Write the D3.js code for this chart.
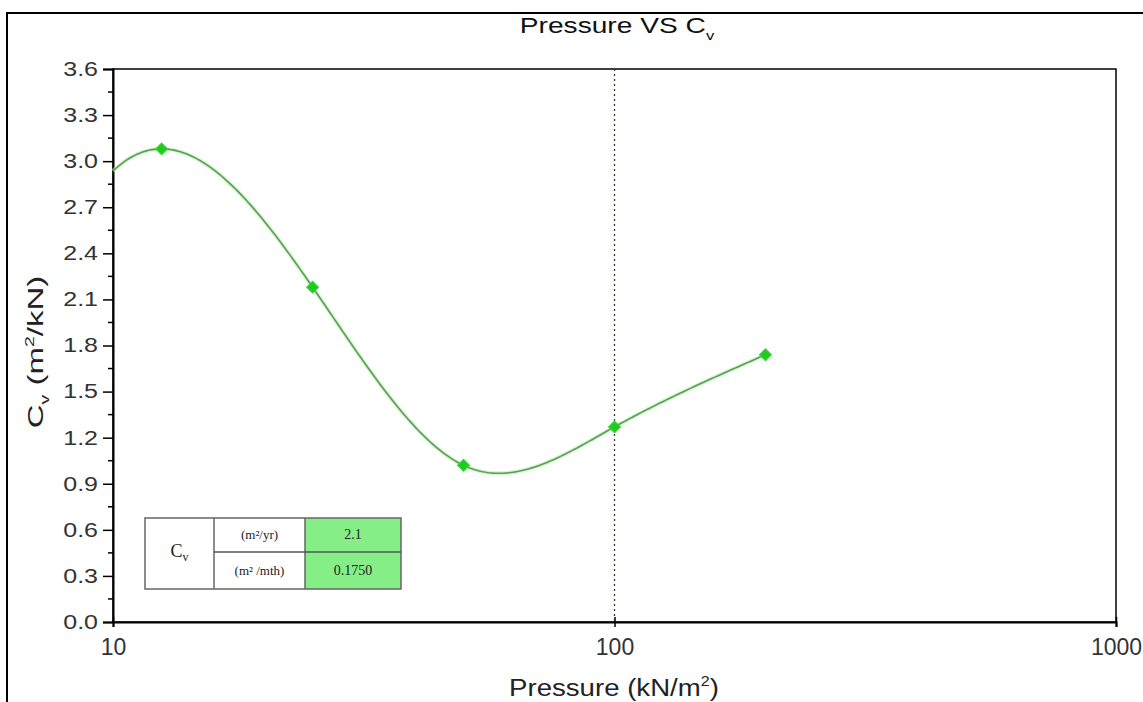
<!DOCTYPE html>
<html>
<head>
<meta charset="utf-8">
<script src="https://cdn.jsdelivr.net/npm/d3@7"></script>
<style>
  body { margin: 0; background: #fff; }
  svg { display: block; font-family: "Liberation Sans", Arial, sans-serif; }
</style>
</head>
<body>
<svg id="chart" width="1143" height="702"></svg>
<script>
// data
const pressure = [12.5, 25, 50, 100, 200];
const cv = [3.08, 2.18, 1.02, 1.27, 1.74];
const xTicks = [10, 100, 1000];
const yTicks = [0, 0.3, 0.6, 0.9, 1.2, 1.5, 1.8, 2.1, 2.4, 2.7, 3.0, 3.3, 3.6];
const refPressure = 100;
const tableUnits = ['(m²/yr)', '(m² /mth)'];
const tableValues = ['2.1', '0.1750'];

const svg = d3.select('#chart');
const width = 1143;
const height = 702;
const margin = { top: 69, right: 27, bottom: 80, left: 113 };

const x = d3.scaleLog().domain([10, 1000]).range([margin.left, width - margin.right]);
const y = d3.scaleLinear().domain([0, 3.6]).range([height - margin.bottom, margin.top]);

// outer page frame (top and left edges only)
svg.append('path')
  .attr('d', `M7,${height} V13 H${width}`)
  .attr('fill', 'none')
  .attr('stroke', '#000')
  .attr('stroke-width', 2);

// title
const title = svg.append('text')
  .attr('transform', 'translate(617,33) scale(1.28,1)')
  .attr('text-anchor', 'middle')
  .attr('font-size', 22)
  .attr('fill', '#111');
title.append('tspan').text('Pressure VS C');
title.append('tspan').attr('font-size', 13).attr('dy', 7).text('v');

// plot box
svg.append('rect')
  .attr('x', x.range()[0])
  .attr('y', y.range()[1])
  .attr('width', x.range()[1] - x.range()[0])
  .attr('height', y.range()[0] - y.range()[1])
  .attr('fill', 'none')
  .attr('stroke', '#000')
  .attr('stroke-width', 1.5);

// y axis
const yAxis = svg.append('g')
  .attr('transform', `translate(${margin.left},0)`)
  .call(d3.axisLeft(y).tickValues(yTicks).tickFormat(d3.format('.1f')).tickSize(10).tickPadding(4));
yAxis.select('.domain').attr('stroke-width', 2);
yAxis.selectAll('.tick line').attr('stroke-width', 1.5);
yAxis.selectAll('.tick text').attr('font-size', 20).attr('fill', '#333')
  .attr('transform', 'scale(1.25,1)').attr('x', -12);

// y minor ticks
const yMinor = d3.range(0, yTicks.length - 1).map(i => (yTicks[i] + yTicks[i + 1]) / 2);
svg.append('g')
  .selectAll('line')
  .data(yMinor)
  .join('line')
  .attr('x1', margin.left - 5)
  .attr('x2', margin.left)
  .attr('y1', d => y(d))
  .attr('y2', d => y(d))
  .attr('stroke', '#000')
  .attr('stroke-width', 1.5);

// x axis
const xAxis = svg.append('g')
  .attr('transform', `translate(0,${height - margin.bottom})`)
  .call(d3.axisBottom(x).tickValues(xTicks).tickFormat(d3.format('d')).tickSize(5).tickPadding(12));
xAxis.select('.domain').attr('stroke-width', 2);
xAxis.selectAll('.tick line').attr('y1', -5).attr('stroke-width', 1.5);
xAxis.selectAll('.tick text').attr('font-size', 23).attr('fill', '#333');

// axis labels
const yLabel = svg.append('text')
  .attr('transform', 'translate(43,352) rotate(-90) scale(1.5,1)')
  .attr('text-anchor', 'middle')
  .attr('font-size', 22)
  .attr('fill', '#222');
yLabel.append('tspan').text('C');
yLabel.append('tspan').attr('font-size', 13).attr('dy', 6).text('v');
yLabel.append('tspan').attr('dy', -6).text(' (m');
yLabel.append('tspan').attr('font-size', 13).attr('dy', -9).text('2');
yLabel.append('tspan').attr('dy', 9).text('/kN)');

const xLabel = svg.append('text')
  .attr('transform', 'translate(614,696) scale(1.15,1)')
  .attr('text-anchor', 'middle')
  .attr('font-size', 24)
  .attr('fill', '#222');
xLabel.append('tspan').text('Pressure (kN/m');
xLabel.append('tspan').attr('font-size', 14).attr('dy', -10).text('2');
xLabel.append('tspan').attr('dy', 10).text(')');

// dotted reference line
svg.append('line')
  .attr('x1', x(refPressure))
  .attr('x2', x(refPressure))
  .attr('y1', y.range()[1])
  .attr('y2', y.range()[0])
  .attr('stroke', '#3a3a20')
  .attr('stroke-width', 1.3)
  .attr('stroke-dasharray', '2,3');

// spline through the points in log10(x): zero slope at the first point, natural at the last
function makeSpline(us, ys) {
  const n = us.length;
  const h = d3.range(n - 1).map(i => us[i + 1] - us[i]);
  const dd = d3.range(n - 1).map(i => (ys[i + 1] - ys[i]) / h[i]);
  const a = new Array(n).fill(0), b = new Array(n).fill(0), c = new Array(n).fill(0), r = new Array(n).fill(0);
  b[0] = 2 * h[0]; c[0] = h[0]; r[0] = 6 * (dd[0] - 0);
  for (let i = 1; i < n - 1; i++) {
    a[i] = h[i - 1];
    b[i] = 2 * (h[i - 1] + h[i]);
    c[i] = h[i];
    r[i] = 6 * (dd[i] - dd[i - 1]);
  }
  b[n - 1] = 1; r[n - 1] = 0;
  for (let i = 1; i < n; i++) {
    const m = a[i] / b[i - 1];
    b[i] -= m * c[i - 1];
    r[i] -= m * r[i - 1];
  }
  const M = new Array(n).fill(0);
  M[n - 1] = r[n - 1] / b[n - 1];
  for (let i = n - 2; i >= 0; i--) M[i] = (r[i] - c[i] * M[i + 1]) / b[i];
  return u => {
    let i = 0;
    while (i < n - 2 && u > us[i + 1]) i++;
    const hi = h[i], A = us[i + 1] - u, B = u - us[i];
    return M[i] * A * A * A / (6 * hi) + M[i + 1] * B * B * B / (6 * hi)
      + (ys[i] / hi - M[i] * hi / 6) * A + (ys[i + 1] / hi - M[i + 1] * hi / 6) * B;
  };
}

const spline = makeSpline(pressure.map(Math.log10), cv);
const u0 = Math.log10(x.domain()[0]);
const u1 = Math.log10(d3.max(pressure));
const curvePts = d3.range(0, 301).map(k => {
  const u = u0 + (u1 - u0) * k / 300;
  return [Math.pow(10, u), spline(u)];
});

const line = d3.line()
  .x(d => x(d[0]))
  .y(d => y(d[1]))
  .curve(d3.curveLinear);

svg.append('path')
  .datum(curvePts)
  .attr('d', line)
  .attr('fill', 'none')
  .attr('stroke', '#b8f0b0')
  .attr('stroke-width', 4)
  .attr('stroke-opacity', 0.6);
svg.append('path')
  .datum(curvePts)
  .attr('d', line)
  .attr('fill', 'none')
  .attr('stroke', '#5c9c55')
  .attr('stroke-width', 1.6);

// markers
svg.append('g')
  .selectAll('path')
  .data(pressure.map((p, i) => [p, cv[i]]))
  .join('path')
  .attr('transform', d => `translate(${x(d[0])},${y(d[1])}) rotate(45)`)
  .attr('d', d3.symbol(d3.symbolSquare, 72))
  .attr('fill', '#1ecb1e')
  .attr('stroke', '#3ad83a')
  .attr('stroke-width', 1);

// inset table
const tbl = { x: 145, y: 518, w: [69, 91, 96], h: [34, 37] };
const tg = svg.append('g').attr('font-family', '"Liberation Serif", "Times New Roman", serif');
const colX = [tbl.x, tbl.x + tbl.w[0], tbl.x + tbl.w[0] + tbl.w[1], tbl.x + d3.sum(tbl.w)];
const rowY = [tbl.y, tbl.y + tbl.h[0], tbl.y + d3.sum(tbl.h)];

tg.append('rect')
  .attr('x', colX[2]).attr('y', rowY[0])
  .attr('width', colX[3] - colX[2]).attr('height', rowY[2] - rowY[0])
  .attr('fill', '#86ee86');
tg.append('rect')
  .attr('x', colX[0]).attr('y', rowY[0])
  .attr('width', colX[3] - colX[0]).attr('height', rowY[2] - rowY[0])
  .attr('fill', 'none').attr('stroke', '#666').attr('stroke-width', 1.5);
[colX[1], colX[2]].forEach(cx => tg.append('line')
  .attr('x1', cx).attr('x2', cx).attr('y1', rowY[0]).attr('y2', rowY[2])
  .attr('stroke', '#666').attr('stroke-width', 1.5));
tg.append('line')
  .attr('x1', colX[1]).attr('x2', colX[3]).attr('y1', rowY[1]).attr('y2', rowY[1])
  .attr('stroke', '#555').attr('stroke-width', 1.5);

const cvCell = tg.append('text')
  .attr('x', (colX[0] + colX[1]) / 2)
  .attr('y', (rowY[0] + rowY[2]) / 2 + 3)
  .attr('text-anchor', 'middle')
  .attr('font-size', 18)
  .attr('fill', '#222');
cvCell.append('tspan').text('C');
cvCell.append('tspan').attr('font-size', 12).attr('dy', 4).text('v');

tg.selectAll('text.unit')
  .data(tableUnits)
  .join('text')
  .attr('class', 'unit')
  .attr('x', (colX[1] + colX[2]) / 2)
  .attr('y', (d, i) => (rowY[i] + rowY[i + 1]) / 2 + 4)
  .attr('text-anchor', 'middle')
  .attr('font-size', 13)
  .attr('fill', '#222')
  .text(d => d);

tg.selectAll('text.val')
  .data(tableValues)
  .join('text')
  .attr('class', 'val')
  .attr('x', (colX[2] + colX[3]) / 2)
  .attr('y', (d, i) => (rowY[i] + rowY[i + 1]) / 2 + 4)
  .attr('text-anchor', 'middle')
  .attr('font-size', 14)
  .attr('fill', '#222')
  .text(d => d);
</script>
</body>
</html>
